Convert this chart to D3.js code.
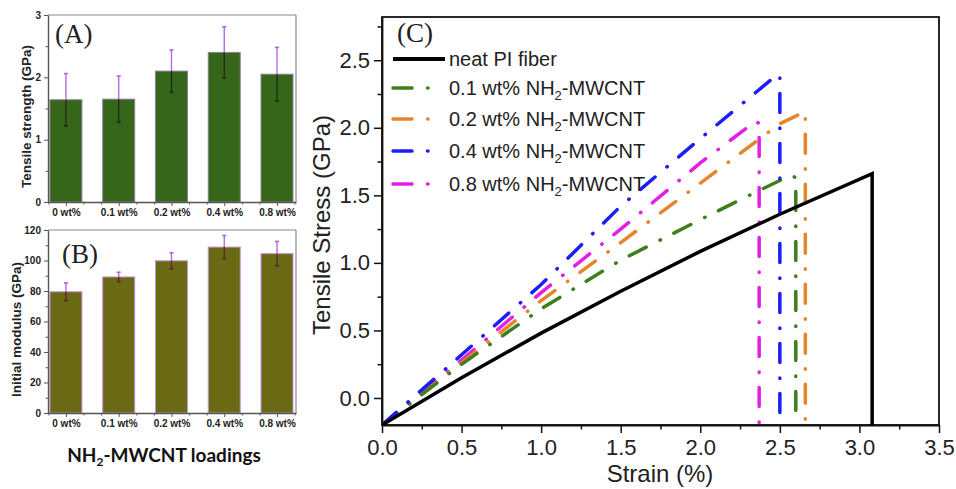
<!DOCTYPE html>
<html>
<head>
<meta charset="utf-8">
<script src="https://cdn.jsdelivr.net/npm/d3@7"></script>
<style>
  html, body { margin: 0; padding: 0; background: #fff; }
  svg { display: block; }
</style>
</head>
<body>
<svg id="chart" width="956" height="489"></svg>
<script>
// ---------- Data ----------
const categories = ["0 wt%", "0.1 wt%", "0.2 wt%", "0.4 wt%", "0.8 wt%"];
const strengthMean = [1.64, 1.65, 2.10, 2.40, 2.05];
const strengthErr = [0.42, 0.37, 0.34, 0.41, 0.43];
const modulusMean = [79.5, 89.2, 99.8, 108.8, 104.5];
const modulusErr = [5.8, 3.1, 5.2, 7.6, 8.0];

const strengthTicks = [0, 1, 2, 3];
const modulusTicks = [0, 20, 40, 60, 80, 100, 120];

const seriesNames = ["neat PI fiber", "0.1 wt%", "0.2 wt%", "0.4 wt%", "0.8 wt%"];
const strainNeat = [0, 0.5, 1.0, 1.5, 2.0, 2.5, 3.08, 3.08];
const stressNeat = [-0.2, 0.15, 0.48, 0.79, 1.085, 1.36, 1.66, -0.2];
const strain01 = [0, 0.5, 1.0, 1.5, 2.0, 2.36, 2.5, 2.57, 2.6, 2.6];
const stress01 = [-0.2, 0.25, 0.66, 1.02, 1.32, 1.53, 1.61, 1.65, 1.63, -0.2];
const strain02 = [0, 0.5, 1.0, 1.5, 2.0, 2.5, 2.66, 2.66];
const stress02 = [-0.2, 0.26, 0.72, 1.15, 1.59, 2.03, 2.12, -0.2];
const strain04 = [0, 0.5, 1.0, 1.5, 2.0, 2.49, 2.5, 2.5];
const stress04 = [-0.2, 0.32, 0.84, 1.42, 1.92, 2.40, 2.38, -0.2];
const strain08 = [0, 0.5, 1.0, 1.5, 2.0, 2.35, 2.37, 2.37];
const stress08 = [-0.2, 0.28, 0.78, 1.25, 1.74, 2.05, 2.03, -0.2];

const strainTicks = [0, 0.5, 1.0, 1.5, 2.0, 2.5, 3.0, 3.5];
const stressTicks = [0, 0.5, 1.0, 1.5, 2.0, 2.5];

// ---------- Setup ----------
const svg = d3.select("#chart");
const SANS = "'Liberation Sans', Arial, sans-serif";
const SERIF = "'Liberation Serif', 'Times New Roman', serif";

// ---------- Bar panels (A) and (B) ----------
function barPanel(opts) {
  const { top, bottom, yMax, ticks, minorStep, means, errs, fill, stroke, errTop, errIn, title, titleX, label, labelX, labelY } = opts;
  const x = d3.scaleLinear().domain([0.66, 5.36]).range([48, 296]);
  const y = d3.scaleLinear().domain([0, yMax]).range([bottom, top]);
  const g = svg.append("g");
  const halfW = 0.303;

  g.selectAll("rect.bar").data(means).join("rect")
    .attr("x", (d, i) => x(i + 1 - halfW))
    .attr("width", x(1 + halfW) - x(1 - halfW))
    .attr("y", d => y(d))
    .attr("height", d => y(0) - y(d))
    .attr("fill", fill).attr("stroke", stroke).attr("stroke-width", 1);

  means.forEach((m, i) => {
    const cx = x(i + 1);
    g.append("line").attr("x1", cx).attr("x2", cx).attr("y1", y(m + errs[i])).attr("y2", y(m))
      .attr("stroke", errTop).attr("stroke-width", 1.3);
    g.append("line").attr("x1", cx).attr("x2", cx).attr("y1", y(m)).attr("y2", y(m - errs[i]))
      .attr("stroke", errIn).attr("stroke-width", 1.3);
    g.append("line").attr("x1", cx - 2).attr("x2", cx + 2).attr("y1", y(m + errs[i])).attr("y2", y(m + errs[i]))
      .attr("stroke", errTop).attr("stroke-width", 1.6);
    g.append("line").attr("x1", cx - 2).attr("x2", cx + 2).attr("y1", y(m - errs[i])).attr("y2", y(m - errs[i]))
      .attr("stroke", errIn).attr("stroke-width", 1.6);
  });

  g.append("line").attr("x1", 48).attr("x2", 296).attr("y1", top).attr("y2", top).attr("stroke", "#888").attr("stroke-width", 1.2);
  g.append("line").attr("x1", 296).attr("x2", 296).attr("y1", top).attr("y2", bottom).attr("stroke", "#888").attr("stroke-width", 1.2);

  const minorVals = d3.range(minorStep, yMax, minorStep * 2);
  g.append("g").attr("transform", "translate(48,0)")
    .call(d3.axisLeft(y).tickValues(ticks).tickFormat(d3.format("d")).tickSize(4).tickSizeOuter(0).tickPadding(3));
  g.append("g").attr("transform", "translate(48,0)")
    .call(d3.axisLeft(y).tickValues(minorVals).tickSize(2.5).tickFormat("").tickSizeOuter(0))
    .select(".domain").remove();
  g.append("g").attr("transform", `translate(0,${bottom})`)
    .call(d3.axisBottom(x).tickValues([1, 2, 3, 4, 5]).tickFormat((d) => categories[d - 1]).tickSize(4).tickSizeOuter(0).tickPadding(3));
  const minorX = [];
  for (let i = 1; i <= 5; i++) { minorX.push(i - 1 / 3, i + 1 / 3); }
  g.append("g").attr("transform", `translate(0,${bottom})`)
    .call(d3.axisBottom(x).tickValues(minorX).tickSize(2.5).tickFormat("").tickSizeOuter(0))
    .select(".domain").remove();

  g.selectAll(".domain").attr("stroke", "#555").attr("stroke-width", 1.4);
  g.selectAll(".tick line").attr("stroke", "#555").attr("stroke-width", 1);
  g.selectAll(".tick text").attr("font-family", SANS).attr("font-weight", "bold").attr("font-size", 10).attr("fill", "#222");

  g.append("text")
    .attr("transform", `translate(${titleX},${(top + bottom) / 2 + 8}) rotate(-90)`)
    .attr("text-anchor", "middle")
    .attr("font-family", SANS).attr("font-weight", "bold").attr("font-size", 13.5).attr("fill", "#222")
    .text(title);
  g.append("text").attr("x", labelX).attr("y", labelY)
    .attr("font-family", SERIF).attr("font-size", 27).attr("fill", "#222").text(label);
}

barPanel({
  top: 15, bottom: 202, yMax: 3, ticks: strengthTicks, minorStep: 0.5,
  means: strengthMean, errs: strengthErr,
  fill: "#36661a", stroke: "#8d7f9c", errTop: "#b35fe0", errIn: "#1f2a12",
  title: "Tensile strength (GPa)", titleX: 31, label: "(A)", labelX: 55, labelY: 43
});
barPanel({
  top: 230, bottom: 413, yMax: 120, ticks: modulusTicks, minorStep: 10,
  means: modulusMean, errs: modulusErr,
  fill: "#6b6a14", stroke: "#c68ee0", errTop: "#b35fe0", errIn: "#5a2535",
  title: "Initial modulus (GPa)", titleX: 21, label: "(B)", labelX: 62, labelY: 263
});

const xt = svg.append("text").attr("x", 164).attr("y", 462).attr("text-anchor", "middle")
  .attr("font-family", "Lato, 'Open Sans', sans-serif").attr("font-weight", "bold").attr("font-size", 19).attr("fill", "#111");
xt.append("tspan").text("NH");
xt.append("tspan").attr("font-size", 12).attr("dy", 4).text("2");
xt.append("tspan").attr("dy", -4).text("-MWCNT loadings");

// ---------- Panel (C) ----------
const xC = d3.scaleLinear().domain([0, 3.5]).range([382, 939]);
const yC = d3.scaleLinear().domain([-0.2, 2.82]).range([425, 17]);
const gC = svg.append("g");

gC.append("rect").attr("x", 382).attr("y", 17).attr("width", 939 - 382).attr("height", 425 - 17)
  .attr("fill", "none").attr("stroke", "#111").attr("stroke-width", 1.8);

gC.append("g").attr("transform", "translate(382,0)")
  .call(d3.axisLeft(yC).tickValues(stressTicks).tickFormat(d3.format(".1f")).tickSize(8).tickSizeOuter(0).tickPadding(4));
gC.append("g").attr("transform", "translate(382,0)")
  .call(d3.axisLeft(yC).tickValues(d3.range(0.25, 2.8, 0.5)).tickFormat("").tickSize(4.5).tickSizeOuter(0))
  .select(".domain").remove();
gC.append("g").attr("transform", "translate(0,425)")
  .call(d3.axisBottom(xC).tickValues(strainTicks).tickFormat(d3.format(".1f")).tickSize(8).tickSizeOuter(0).tickPadding(6));
gC.append("g").attr("transform", "translate(0,425)")
  .call(d3.axisBottom(xC).tickValues(d3.range(0.25, 3.5, 0.5)).tickFormat("").tickSize(4.5).tickSizeOuter(0))
  .select(".domain").remove();
gC.selectAll(".domain").attr("stroke", "#111").attr("stroke-width", 1.8);
gC.selectAll(".tick line").attr("stroke", "#111").attr("stroke-width", 1.5);
gC.selectAll(".tick text").attr("font-family", SANS).attr("font-size", 22).attr("fill", "#222");

gC.append("text").attr("x", 660).attr("y", 482).attr("text-anchor", "middle")
  .attr("font-family", SANS).attr("font-size", 24).attr("fill", "#222").text("Strain (%)");
gC.append("text").attr("transform", "translate(330,225) rotate(-90)").attr("text-anchor", "middle")
  .attr("font-family", SANS).attr("font-size", 24).attr("fill", "#222").text("Tensile Stress (GPa)");

const dashDot = "19,15.5,0.5,15";
const curves = [
  { xs: strain08, ys: stress08, color: "#e31ee6", dash: dashDot },
  { xs: strain02, ys: stress02, color: "#e5862c", dash: dashDot },
  { xs: strain01, ys: stress01, color: "#3e7f1c", dash: dashDot },
  { xs: strain04, ys: stress04, color: "#1d1df5", dash: dashDot },
  { xs: strainNeat, ys: stressNeat, color: "#000", dash: null }
];
const line = d3.line().x(d => xC(d[0])).y(d => yC(d[1]));
gC.append("defs").append("clipPath").attr("id", "clipC").append("rect")
  .attr("x", 382).attr("y", 17).attr("width", 557).attr("height", 408);
curves.forEach(c => {
  const pts = c.xs.map((v, i) => [v, c.ys[i]]);
  gC.append("path").attr("d", line(pts)).attr("fill", "none")
    .attr("clip-path", "url(#clipC)")
    .attr("stroke", c.color).attr("stroke-width", 3.5)
    .attr("stroke-linecap", c.dash ? "round" : "butt")
    .attr("stroke-linejoin", "miter")
    .attr("stroke-dasharray", c.dash);
});

const legendItems = [
  { name: seriesNames[0], color: "#000", dash: null, y: 59 },
  { name: seriesNames[1], color: "#3e7f1c", dash: dashDot, y: 88 },
  { name: seriesNames[2], color: "#e5862c", dash: dashDot, y: 119 },
  { name: seriesNames[3], color: "#1d1df5", dash: dashDot, y: 151 },
  { name: seriesNames[4], color: "#e31ee6", dash: dashDot, y: 184 }
];
legendItems.forEach((it, i) => {
  gC.append("line").attr("x1", 393).attr("x2", i === 0 ? 445 : 432).attr("y1", it.y).attr("y2", it.y)
    .attr("stroke", it.color).attr("stroke-width", i === 0 ? 4 : 3.5)
    .attr("stroke-linecap", it.dash ? "round" : "butt")
    .attr("stroke-dasharray", it.dash);
  const t = gC.append("text").attr("x", 449).attr("y", it.y + 7)
    .attr("font-family", SANS).attr("font-size", 20).attr("fill", "#222");
  if (i === 0) {
    t.text(it.name);
  } else {
    t.append("tspan").text(it.name + " NH");
    t.append("tspan").attr("font-size", 13).attr("dy", 5).text("2");
    t.append("tspan").attr("dy", -5).text("-MWCNT");
  }
});

gC.append("text").attr("x", 397).attr("y", 42)
  .attr("font-family", SERIF).attr("font-size", 27).attr("fill", "#222").text("(C)");
</script>
</body>
</html>
